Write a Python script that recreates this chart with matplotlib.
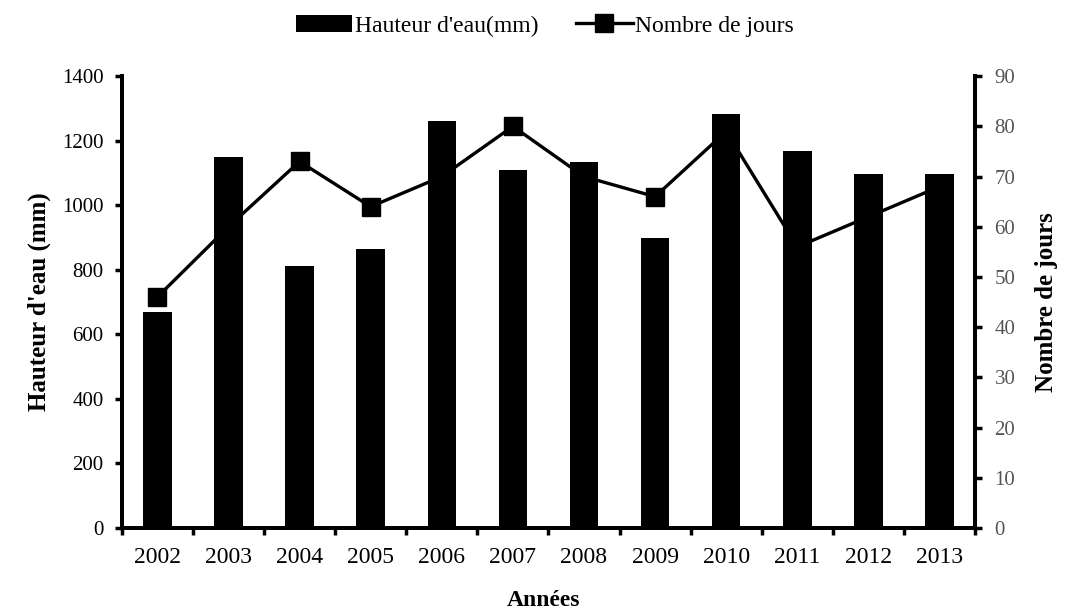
import matplotlib
matplotlib.use("Agg")

import numpy as np
import matplotlib.pyplot as plt
from matplotlib.ticker import FixedLocator

# Pluviométrie annuelle et nombre de jours de pluie
annees = ["2002", "2003", "2004", "2005", "2006", "2007",
          "2008", "2009", "2010", "2011", "2012", "2013"]
hauteur_eau = [670, 1150, 812, 863, 1262, 1109, 1135, 899, 1282, 1169, 1096, 1096]
nombre_jours = [46, 60, 73, 64, 70, 80, 70, 66, 79, 56, 62, 68]

plt.rcParams["font.family"] = ["Liberation Serif", "DejaVu Serif"]

fig = plt.figure(figsize=(10.68, 6.14), dpi=100)
ax = fig.add_axes([0.114, 0.14, 0.799, 0.736])
ax2 = ax.twinx()

x = np.arange(len(annees))

# courbe du nombre de jours (axe secondaire), dessinée sous les barres
ax2.plot(x, nombre_jours, color="black", linewidth=2.4, marker="s",
         markersize=13, label="Nombre de jours")
ax2.set_ylim(0, 90)
ax2.set_yticks(range(0, 91, 10))
ax2.set_ylabel("Nombre de jours", fontsize=18, fontweight="bold", labelpad=14)
ax2.tick_params(axis="y", direction="out", length=5, width=2.5, labelsize=15,
                labelcolor="#555555", pad=9)

barres = ax.bar(x, hauteur_eau, width=0.4, color="black", label="Hauteur d'eau(mm)")
ax.set_zorder(ax2.get_zorder() + 1)
ax.patch.set_visible(False)

ax.set_xlim(-0.5, len(annees) - 0.5)
ax.set_ylim(0, 1400)
ax.set_yticks(range(0, 1401, 200))
ax.set_xticks(x)
ax.set_xticklabels(annees)
ax.xaxis.set_minor_locator(FixedLocator(np.arange(-0.5, len(annees), 1)))
ax.tick_params(axis="x", which="major", length=0, labelsize=17, pad=14)
ax.tick_params(axis="x", which="minor", direction="out", length=5, width=2.5)
ax.tick_params(axis="y", direction="out", length=5, width=2.5, labelsize=15, pad=8)
ax.set_ylabel("Hauteur d'eau (mm)", fontsize=18, fontweight="bold", labelpad=8)
ax.set_xlabel("Années", fontsize=17, fontweight="bold")
ax.xaxis.set_label_coords(0.494, -0.138)

for a in (ax, ax2):
    a.spines["top"].set_visible(False)
    for s in ("left", "right", "bottom"):
        a.spines[s].set_linewidth(2.8)

h1, l1 = ax.get_legend_handles_labels()
h2, l2 = ax2.get_legend_handles_labels()
fig.legend(h1 + h2, l1 + l2, loc="upper center", bbox_to_anchor=(0.51, 1.01),
           ncol=2, frameon=False, fontsize=17, handlelength=2.4,
           handletextpad=0.1, columnspacing=1.6)

fig.savefig("out.png", dpi=100)
